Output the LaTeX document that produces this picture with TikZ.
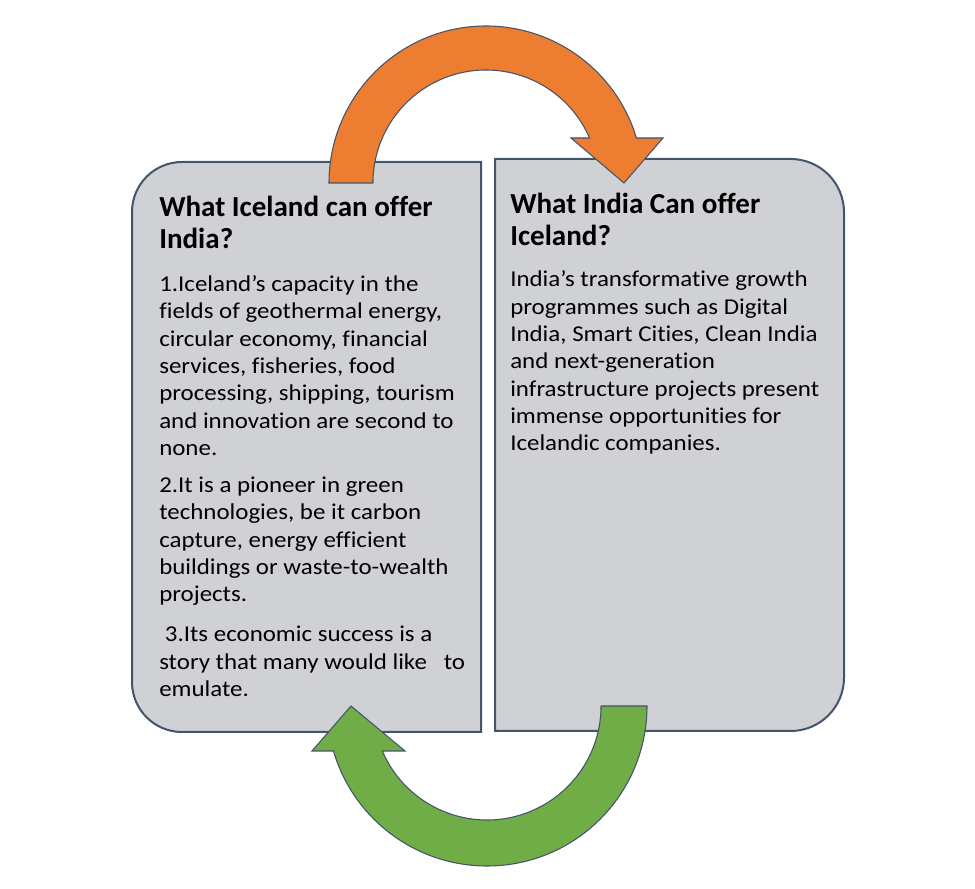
\documentclass[tikz,border=0pt]{standalone}
\usepackage{fontspec}
\setmainfont[Ligatures=NoCommon]{Carlito}
\newfontfamily\panelfont[FakeStretch=1.10, Ligatures=NoCommon]{Carlito}
\definecolor{panelfill}{RGB}{208,209,213}
\definecolor{panelline}{RGB}{68,84,106}
\definecolor{arroworange}{RGB}{237,125,49}
\definecolor{arrowgreen}{RGB}{112,173,71}
\begin{document}
\begin{tikzpicture}[x=0.75pt, y=0.75pt,
  panel/.style={draw=panelline, fill=panelfill, line width=1.5pt},
  bigarrow/.style={draw=panelline, line width=0.8pt, line join=miter},
  heading/.style={anchor=base west, inner sep=0pt, align=left, font=\fontsize{21.8}{24}\selectfont\bfseries},
  body/.style={anchor=base west, inner sep=0pt, align=left, font=\panelfont\fontsize{17}{20.5}\selectfont}]
\useasboundingbox (0,0) rectangle (975,889);
% the two panels
\draw[panel] (481,727) [rounded corners=37.5pt] -- (132,727) -- (132,157) [sharp corners] -- (481,157) -- cycle;
\draw[panel] (495,730) [rounded corners=40pt] -- (844,730) -- (844,158) [sharp corners] -- (495,158) -- cycle;
% curved arrows
\fill[arroworange, bigarrow] (329,706) arc (180:16.66:157) -- (663,751) -- (624,706) -- (571,751)
  -- (589.6,751) arc (23.47:180:113) -- cycle;
\fill[arrowgreen, bigarrow] (647,183) arc (360:196.33:160) -- (312,138) -- (351,183) -- (405,138)
  -- (382.3,138) arc (203.25:360:114) -- cycle;
% left panel text (anchored at the last baseline)
\node[heading] (icelandTitle) at (159,640) {What Iceland can offer\\India?};
\node[body] (icelandOne) at (159,433.5) {1.Iceland’s capacity in the\\fields of geothermal energy,\\circular economy, financial\\services, fisheries, food\\processing, shipping, tourism\\and innovation are second to\\none.};
\node[body] (icelandTwo) at (159,287) {2.It is a pioneer in green\\technologies, be it carbon\\capture, energy efficient\\buildings or waste-to-wealth\\projects.};
\node[body] (icelandThree) at (159,192.4) {\ 3.Its economic success is a\\story that many would like\ \ \ to\\emulate.};
% right panel text
\node[heading] (indiaTitle) at (510,643) {What India Can offer\\Iceland?};
\node[body] (indiaText) at (510,438) {India’s transformative growth\\programmes such as Digital\\India, Smart Cities, Clean India\\and next-generation\\infrastructure projects present\\immense opportunities for\\Icelandic companies.};
\end{tikzpicture}
\end{document}
